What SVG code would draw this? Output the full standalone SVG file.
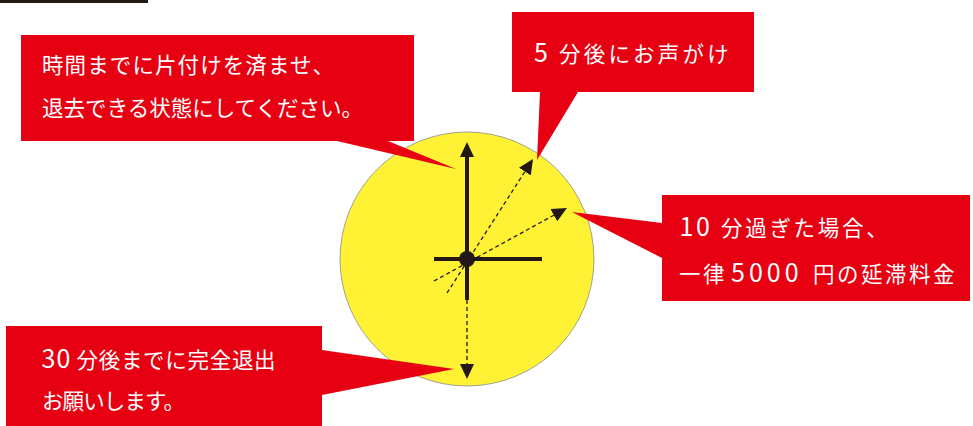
<svg xmlns="http://www.w3.org/2000/svg" width="973" height="426" viewBox="0 0 973 426">
  <style>
    .bubble { fill: #e60012; }
    .t { font-family: "Noto Sans CJK JP", "Noto Sans CJK SC", sans-serif; font-size: 21.5px; font-weight: 400; fill: #ffffff; }
    .num { font-size: 25px; }
    .hand { stroke: #231815; stroke-width: 4; fill: none; }
    .dash { stroke: #231815; stroke-width: 1.3; stroke-dasharray: 4 3; fill: none; }
  </style>
  <defs>
    <marker id="ah" viewBox="0 0 15 14" refX="0" refY="7" markerWidth="15" markerHeight="14" markerUnits="userSpaceOnUse" orient="auto">
      <path d="M0,0 L15,7 L0,14 Z" fill="#231815"/>
    </marker>
  </defs>
  <rect width="973" height="426" fill="#ffffff"/>
  <rect id="topbar" x="0" y="0" width="148" height="3" fill="#231815"/>

  <g id="clock">
    <circle cx="467" cy="259" r="127" fill="#fff133" stroke="#8a8a8a" stroke-width="0.8"/>
  </g>

  <g id="connectors">
    <line class="hand" x1="467" y1="300" x2="467" y2="157" marker-end="url(#ah)"/>
    <line class="hand" x1="434" y1="259" x2="542" y2="259"/>
    <line class="dash" x1="467" y1="300" x2="467" y2="364" marker-end="url(#ah)"/>
    <line class="dash" x1="447" y1="293" x2="524.9" y2="171.6" marker-end="url(#ah)"/>
    <line class="dash" x1="434" y1="281" x2="553.8" y2="215.2" marker-end="url(#ah)"/>
    <circle cx="467" cy="259" r="8" fill="#231815"/>
  </g>

  <g id="callout-prepare">
    <path class="bubble" d="M21,35 H414 V141 H388 L456,169 L337,141 H21 Z"/>
    <text class="t" x="42" y="73" textLength="292" lengthAdjust="spacing">時間までに片付けを済ませ、</text>
    <text class="t" x="42" y="116" textLength="321" lengthAdjust="spacing">退去できる状態にしてください。</text>
  </g>

  <g id="callout-5min">
    <path class="bubble" d="M512,12 H754 V92 H578 L537,160 L540,92 H512 Z"/>
    <text class="t" y="62"><tspan class="num" x="534">5 </tspan><tspan x="559" letter-spacing="3.2">分後にお声がけ</tspan></text>
  </g>

  <g id="callout-10min">
    <path class="bubble" d="M662,195 H970 V301 H662 V258 L572,212 L662,223 Z"/>
    <text class="t" y="236"><tspan class="num" x="679.5" letter-spacing="2.5">10 </tspan><tspan x="721" letter-spacing="2.7">分過ぎた場合、</tspan></text>
    <text class="t" y="282"><tspan x="679" letter-spacing="2.5">一律 </tspan><tspan class="num" x="731" letter-spacing="4">5000 </tspan><tspan x="813" letter-spacing="2.5">円の延滞料金</tspan></text>
  </g>

  <g id="callout-30min">
    <path class="bubble" d="M6,326 H322 V350 L454,369 L322,395 V430 H6 Z"/>
    <text class="t" y="368"><tspan class="num" x="41.5" letter-spacing="1">30 </tspan><tspan x="76.5" letter-spacing="0.7">分後までに完全退出</tspan></text>
    <text class="t" x="42" y="409" textLength="143" lengthAdjust="spacing">お願いします。</text>
  </g>
</svg>
